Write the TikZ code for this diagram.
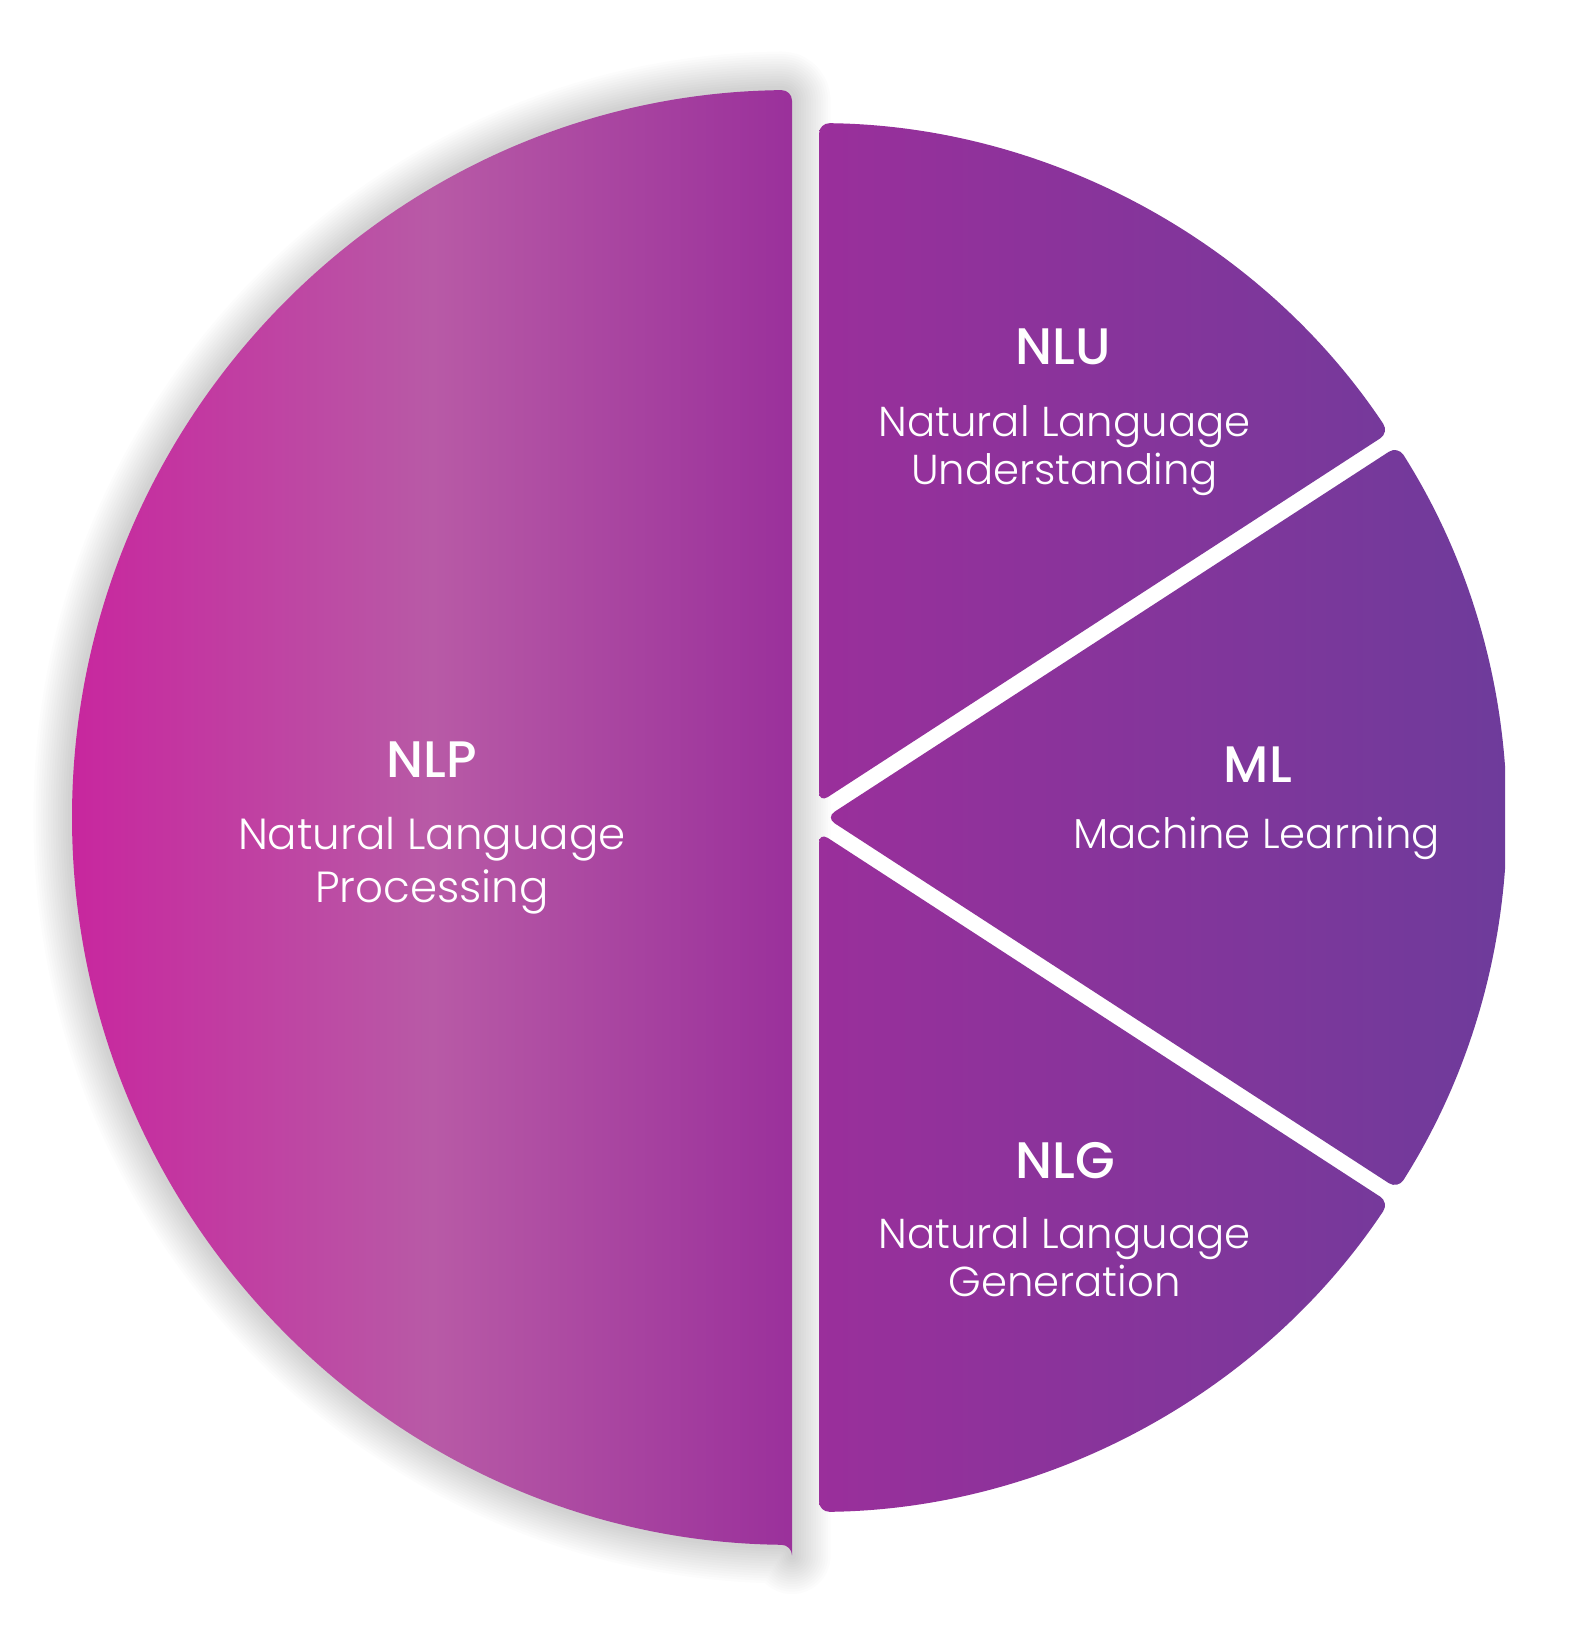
\documentclass[tikz,border=0pt]{standalone}
\usepackage{fontspec}
\setmainfont{Poppins}
\newfontface\titlefont{Poppins Medium}
\newfontface\subfont{Poppins Light}
\definecolor{lc}{RGB}{200,38,158}
\definecolor{mc}{RGB}{184,90,166}
\definecolor{rc}{RGB}{154,48,155}
\definecolor{ra}{RGB}{154,47,155}
\definecolor{rb}{RGB}{110,59,155}
\begin{document}
\begin{tikzpicture}[x=0.1mm,y=0.1mm,
  ttl/.style={text=white,font=\fontsize{14.6}{16}\titlefont,anchor=base,inner sep=0pt},
  sub/.style={text=white,font=\fontsize{11.9}{13}\subfont,anchor=base,inner sep=0pt},
  subL/.style={text=white,font=\fontsize{12.4}{14}\subfont,anchor=base,inner sep=0pt},
  shadowline/.style={draw=black,opacity=0.012,line join=round,rounded corners=3pt}]
\useasboundingbox (0,0) rectangle (1578,1635);
\fill[white] (0,0) rectangle (1578,1635);
% soft shadow of the left half
\foreach \w in {22,20.6,...,1.5}{
  \path[shadowline,line width=\w pt] (792,817.5) -- (792,1544.96)
     arc[start angle=90.59,end angle=269.41,radius=727.5] -- (792,90.04) -- cycle;
}
% left half: NLP
\begin{scope}
\clip[rounded corners=3pt] (792,817.5) -- (792,1544.96)
     arc[start angle=90.59,end angle=269.41,radius=727.5] -- (792,90.04) -- cycle;
\shade[left color=lc,right color=rc,middle color=mc] (68,0) rectangle (796,1635);
\end{scope}
% NLU
\begin{scope}
\clip[rounded corners=3pt] (1104.04,1017.3) -- (1389.08,1202.4)
     arc[start angle=33.66,end angle=89.34,radius=694.5] -- (819,832.23) -- cycle;
\shade[left color=ra,right color=rb] (819,0) rectangle (1505,1635);
\end{scope}
% ML
\begin{scope}
\clip[rounded corners=3pt] (1111.75,631.76) -- (1397.8,446.02)
     arc[start angle=-32.34,end angle=32.34,radius=694.5] -- (825.69,817.5) -- cycle;
\shade[left color=ra,right color=rb] (819,0) rectangle (1505,1635);
\end{scope}
% NLG
\begin{scope}
\clip[rounded corners=3pt] (1104.04,617.69) -- (819,802.77) -- (819,123.05)
     arc[start angle=-89.34,end angle=-33.66,radius=694.5] -- cycle;
\shade[left color=ra,right color=rb] (819,0) rectangle (1505,1635);
\end{scope}
% texts
\node[ttl] (nlpT) at (432,857) {NLP};
\node[subL] (nlpA) at (432,785) {Natural Language};
\node[subL] (nlpB) at (432,732) {Processing};
\node[ttl] (nluT) at (1063,1270) {NLU};
\node[sub] (nluA) at (1064.5,1198.3) {Natural Language};
\node[sub] (nluB) at (1064.5,1150) {Understanding};
\node[ttl] (mlT) at (1258,852.3) {ML};
\node[sub] (mlA) at (1256.5,786) {Machine Learning};
\node[ttl] (nlgT) at (1065,456.7) {NLG};
\node[sub] (nlgA) at (1064.5,386.7) {Natural Language};
\node[sub] (nlgB) at (1064.5,338.3) {Generation};
\end{tikzpicture}
\end{document}
